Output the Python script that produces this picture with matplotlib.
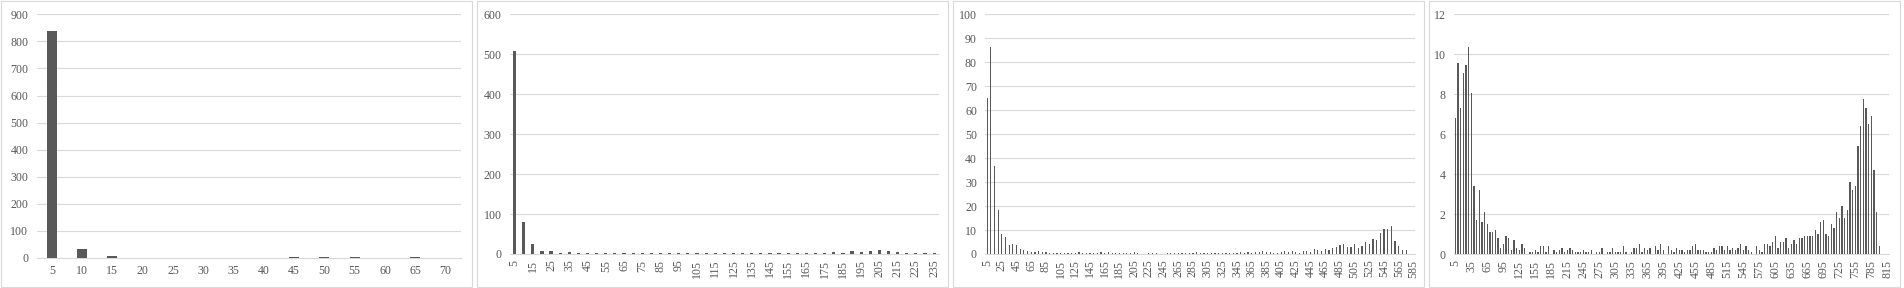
import matplotlib.pyplot as plt
from matplotlib.patches import Rectangle

plt.rcParams['font.family'] = ['Liberation Serif', 'DejaVu Serif']

W, H = 1904, 288

# panel 1
cats1 = list(range(5, 75, 5))
vals1 = [838, 33, 7, 0, 0, 0, 0, 0, 3, 3, 3, 0, 3, 0]

# panel 2
cats2 = list(range(5, 240, 5))
vals2 = [508, 80, 25, 7, 7, 2.5, 4, 2, 2, 2,
         2, 2, 2, 2, 2, 2, 2, 2, 2, 2,
         2, 2, 2, 2, 2, 2, 2, 2, 2, 2,
         2, 2, 2, 2, 2, 4, 2, 7, 4, 7,
         9.5, 7, 4, 2, 2, 2, 2]

# panel 3
cats3 = list(range(5, 590, 5))
vals3 = [65, 86.4, 36.8, 18.5, 8.4, 7.1, 3.8, 4.3, 3.8, 2.1,
         1.7, 1.2, 0.8, 0.8, 1.2, 0.8, 0.8, 0.3, 0.3, 0.3,
         0.3, 0.3, 0.3, 0.3, 0.3, 0.7, 0.3, 0.3, 0.3, 0.3,
         0.3, 0.7, 0.3, 0.7, 0.3, 0.3, 0.3, 0.3, 0.3, 0.3,
         0.7, 0.3, 0, 0, 0.3, 0.3, 0.3, 0, 0, 0.3,
         0.3, 0.3, 0.3, 0.3, 0.3, 0.3, 0.3,
         0.7, 0.3, 0.3, 0.3, 0.3, 0.3, 0.3, 0.3, 0.3, 0.3, 0.3, 0.3,
         0.7, 0.3, 0.7, 0.3, 0.7, 0.7, 1.1, 0.7, 0.7, 0.3, 0.3, 0.7,
         1.1, 0.7, 1.1, 0.7, 0.3, 1.1, 1.1, 0.7, 1.9, 1.5, 1.1, 1.9,
         1.5, 2.4, 2.9, 3.6, 4.0, 2.8, 2.8, 4.0, 2.4, 3.2, 4.9, 4.0,
         6.1, 5.7, 8.6, 10.6, 10.3, 11.5, 5.3, 3.2, 1.5, 1.5,
         0, 0]

# panel 4
cats4 = list(range(5, 820, 5))
vals4 = [6.8, 9.55, 7.3, 9.07, 9.45, 10.35, 8.05, 3.4, 1.7, 3.2,
         1.6, 2.1, 1.5, 1.1, 1.1, 1.2, 0.8, 0.3, 0.5, 0.9,
         0.8, 0.2, 0.7, 0.3, 0.2, 0.5, 0.3, 0, 0.1, 0.1,
         0.2, 0.1, 0.4, 0.4, 0.1, 0.4, 0, 0.2, 0.1, 0.2,
         0.3,
         0.1, 0.2, 0.3, 0.2, 0.1, 0.1, 0.1, 0.2, 0.1, 0.1,
         0.2, 0, 0.1, 0.1, 0.3, 0, 0.1, 0.1, 0.3, 0.1,
         0.1, 0.1, 0.4, 0.1, 0, 0.1, 0.3, 0.3, 0.5, 0.1,
         0.3, 0.2, 0.3, 0, 0.4, 0.2, 0.5, 0.2, 0,
         0.4, 0.2, 0.1, 0.3, 0.2, 0.2, 0.1, 0.2, 0.2, 0.4,
         0.5, 0.2, 0.2, 0.2, 0.1, 0.1, 0.1, 0.3, 0.2, 0.4,
         0.4, 0.2, 0.4, 0.2, 0.3, 0.2, 0.3, 0.5, 0.2, 0.4,
         0.2, 0.1, 0, 0.4, 0.2, 0.1, 0.5, 0.5, 0.4, 0.6,
         0.9, 0.3,
         0.6, 0.6, 0.8, 0.3, 0.5, 0.7, 0.5, 0.8, 0.8, 0.9,
         0.9, 0.9, 0.9, 1.2, 1.0, 1.6, 1.7, 1.0, 0.9, 1.5,
         1.3, 2.1, 1.8, 2.4, 1.8, 2.2, 3.6, 3.2, 3.4, 5.4,
         6.4, 7.75, 7.3, 6.5, 6.9, 4.2, 2.1, 0.4,
         0, 0, 0]

bar_color = '#595959'
grid_color = '#d9d9d9'
text_color = '#595959'

fig = plt.figure(figsize=(W / 100, H / 100), dpi=100)

# light frame around each chart
for k in range(4):
    fig.patches.append(Rectangle(((476 * k + 1) / W, 1 / H), 471 / W, 286 / H,
                                 transform=fig.transFigure, fill=False,
                                 edgecolor=grid_color, linewidth=0.8))


def px_axes(x0, x1, ytop, ybot):
    return fig.add_axes([x0 / W, (H - ybot) / H, (x1 - x0) / W, (ybot - ytop) / H])


def draw(ax, cats, vals, ymax, ystep, every, rot, width):
    n = len(cats)
    ax.bar(range(n), vals, width=width, color=bar_color, linewidth=0, zorder=3)
    ax.set_xlim(-0.5, n - 0.5)
    ax.set_ylim(0, ymax)
    ax.set_yticks(range(0, ymax + 1, ystep))
    ax.set_xticks(range(n))
    ax.set_xticklabels([str(c) if i % every == 0 else '' for i, c in enumerate(cats)],
                       rotation=rot)
    ax.grid(axis='y', color=grid_color, linewidth=0.8, zorder=0)
    ax.set_axisbelow(True)
    for s in ['top', 'right', 'left']:
        ax.spines[s].set_visible(False)
    ax.spines['bottom'].set_color(grid_color)
    ax.spines['bottom'].set_linewidth(0.8)
    ax.tick_params(axis='both', length=0, labelsize=8.6, labelcolor=text_color)
    ax.tick_params(axis='y', pad=6)
    ax.tick_params(axis='x', pad=4 if rot else 5)


ax1 = px_axes(36.7, 460.7, 14.3, 258)
draw(ax1, cats1, vals1, 900, 100, 1, 0, 0.33)

ax2 = px_axes(510, 938.7, 14.3, 254)
draw(ax2, cats2, vals2, 600, 100, 2, 90, 0.35)

ax3 = px_axes(985.3, 1415.3, 14.3, 254)
draw(ax3, cats3, vals3, 100, 10, 4, 90, 0.32)

ax4 = px_axes(1454, 1888.7, 14.3, 254.3)
draw(ax4, cats4, vals4, 12, 2, 6, 90, 0.4)

fig.savefig('out.png', dpi=100)
